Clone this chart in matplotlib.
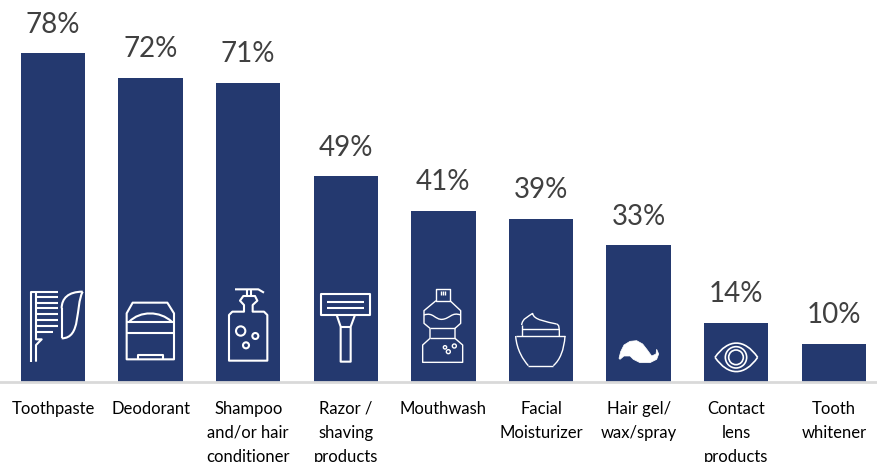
import numpy as np
import matplotlib
matplotlib.use('Agg')
import matplotlib.pyplot as plt
from matplotlib.path import Path
from matplotlib.patches import PathPatch, Circle, Polygon

plt.rcParams['font.family'] = ['Lato', 'DejaVu Sans']

categories = ['Toothpaste', 'Deodorant', 'Shampoo\nand/or hair\nconditioner', 'Razor /\nshaving\nproducts',
              'Mouthwash', 'Facial\nMoisturizer', 'Hair gel/\nwax/spray', 'Contact\nlens\nproducts', 'Tooth\nwhitener']
heights = [78, 72.2, 71, 48.8, 40.6, 38.7, 32.4, 14, 9]
value_labels = ['78%', '72%', '71%', '49%', '41%', '39%', '33%', '14%', '10%']

bar_color = '#24396F'
text_color = '#404040'

fig = plt.figure(figsize=(8.77, 4.62), dpi=100)
ax = fig.add_axes([0, (462 - 381.5) / 462, 1, 381.5 / 462])
step = 97.6
ax.set_xlim(-53 / step, (877 - 53) / step)
ax.set_ylim(0, 381.5 / 4.21)
bars = ax.bar(range(len(heights)), heights, width=0.66, color=bar_color)
ax.bar_label(bars, labels=value_labels, padding=11, fontsize=20, color=text_color)
ax.set_xticks(range(len(categories)))
ax.set_xticklabels(categories, fontsize=12, color='black', linespacing=1.6)
ax.tick_params(axis='x', length=0, pad=14)
ax.set_yticks([])
for s in ['top', 'left', 'right']:
    ax.spines[s].set_visible(False)
ax.spines['bottom'].set_color('#D9D9D9')
ax.spines['bottom'].set_linewidth(2)

# icons, drawn in picture pixels on a clear overlay
ov = fig.add_axes([0, 0, 1, 1], zorder=5)
ov.set_xlim(0, 877)
ov.set_ylim(462, 0)
ov.axis('off')


def conv(pts, ox):
    return [(x / 3 + ox, y / 3 + 270) for x, y in pts]


def line(pts, ox=10, lw=1.5, closed=False):
    p = conv(pts, ox)
    ov.add_patch(Polygon(p, closed=closed, fill=False, ec='white', lw=lw, joinstyle='round'))


def curve(pts, ox=10, lw=1.5):
    # start point then triples of bezier points
    p = conv(pts, ox)
    codes = [Path.MOVETO] + [Path.CURVE4] * (len(p) - 1)
    ov.add_patch(PathPatch(Path(p, codes), fill=False, ec='white', lw=lw))


def ring(x, y, r, ox=10, lw=1.5):
    ov.add_patch(Circle((x / 3 + ox, y / 3 + 270), r / 3, fill=False, ec='white', lw=lw))


# toothbrush and paste
line([(62, 275), (62, 65), (145, 65)])
line([(78, 275), (78, 225), (95, 208), (78, 208), (78, 65)])
for y, xe in zip([82, 98, 115, 132, 150, 167, 185], [145, 145, 145, 145, 145, 145, 130]):
    line([(78, y), (xe, y)])
curve([(218, 65), (175, 65), (155, 85), (155, 115)])
line([(155, 115), (155, 205)])
curve([(155, 205), (215, 205), (195, 110), (218, 65)])

# deodorant
line([(350, 268), (350, 130), (368, 98), (472, 98), (492, 130), (492, 268)], closed=True)
curve([(358, 155), (390, 122), (450, 122), (485, 155)])
line([(350, 155), (492, 155)])
line([(350, 190), (492, 190)])
line([(385, 268), (385, 255), (458, 255), (458, 268)])

# shampoo
line([(657, 272), (657, 135), (667, 125), (702, 125), (702, 105), (690, 92), (700, 78), (735, 78),
      (742, 92), (728, 105), (728, 125), (762, 125), (772, 135), (772, 272)], closed=True)
line([(675, 58), (745, 58), (762, 68)])
line([(712, 58), (712, 78)])
line([(724, 58), (724, 78)])
ring(692, 183, 14)
ring(736, 198, 9)
ring(708, 226, 9)

# razor
line([(933, 73), (1080, 73), (1080, 135), (933, 135)], closed=True)
line([(952, 95), (1062, 95)])
line([(952, 113), (1062, 113)])
line([(980, 135), (992, 170), (992, 275), (1022, 275), (1022, 170), (1035, 135)])
line([(992, 172), (1022, 172)])

# mouthwash
ox2 = 400
lw2 = 1.0
line([(108, 58), (150, 58), (150, 92), (108, 92)], ox2, lw2, True)
for x in [122, 129, 136]:
    line([(x, 62), (x, 76)], ox2, lw2)
line([(108, 92), (72, 122), (72, 160), (90, 175), (90, 205), (68, 225), (68, 277), (188, 277), (188, 225),
      (165, 205), (165, 175), (182, 160), (182, 122), (150, 92)], ox2, lw2)
curve([(72, 135), (100, 125), (105, 150), (127, 148), (150, 146), (155, 125), (182, 135)], ox2, lw2)
line([(90, 175), (165, 175)], ox2, lw2)
line([(90, 205), (165, 205)], ox2, lw2)
ring(135, 232, 5, ox2, lw2)
ring(145, 245, 6, ox2, lw2)
ring(163, 228, 6, ox2, lw2)

# cream
line([(347, 198), (495, 198)], ox2, lw2)
curve([(347, 198), (350, 240), (370, 270), (385, 287)], ox2, lw2)
line([(385, 287), (460, 287)], ox2, lw2)
curve([(460, 287), (480, 270), (492, 240), (495, 198)], ox2, lw2)
line([(365, 198), (365, 165)], ox2, lw2)
curve([(365, 165), (367, 145), (385, 140), (398, 130), (400, 150), (440, 155), (470, 162)], ox2, lw2)
curve([(470, 162), (478, 166), (478, 170), (478, 198)], ox2, lw2)
line([(365, 178), (478, 178)], ox2, lw2)

# hair
hair = conv([(657, 265), (662, 245), (672, 225), (690, 214), (710, 212), (728, 222), (742, 240), (755, 258),
             (768, 252), (770, 238), (776, 252), (770, 268), (750, 278), (720, 278), (700, 268), (690, 258),
             (672, 258), (660, 268)], ox2)
ov.add_patch(Polygon(hair, closed=True, fc='white', ec='white', lw=0.5, joinstyle='round'))

# eye
curve([(945, 262), (985, 205), (1033, 205), (1073, 262)], ox2, lw2 + 0.2)
curve([(945, 262), (985, 319), (1033, 319), (1073, 262)], ox2, lw2 + 0.2)
ring(1008, 262, 32, ox2, lw2 + 0.2)
ring(1008, 262, 22, ox2, lw2 + 0.2)

plt.savefig('out.png', dpi=100)
